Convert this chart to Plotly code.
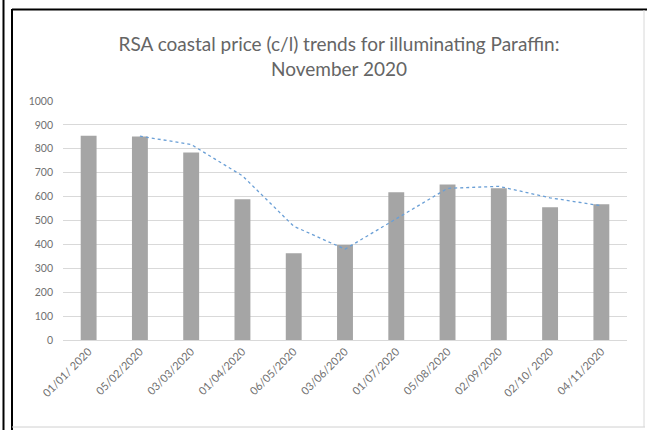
import plotly.graph_objects as go
import pandas as pd

dates = ["01/01/ 2020", "05/02/2020", "03/03/2020", "01/04/2020", "06/05/2020",
         "03/06/2020", "01/07/2020", "05/08/2020", "02/09/2020", "02/10/ 2020", "04/11/2020"]
prices = [855, 851, 785, 589, 363, 397, 618, 651, 635, 555, 568]
y_ticks = [0, 100, 200, 300, 400, 500, 600, 700, 800, 900, 1000]

# 2-period moving average trendline (as in the source chart)
trend = pd.Series(prices).rolling(2).mean().tolist()

L, R, T, B = 63, 20, 101, 90
W, H = 647, 430
pw, ph = W - L - R, H - T - B

def px(x):
    return (x - L) / pw

def py(y):
    return (H - B - y) / ph

fig = go.Figure()
fig.add_trace(go.Bar(x=dates, y=prices, marker_color="#a5a5a5", marker_line_width=0,
                     name="Price", showlegend=False))
fig.add_trace(go.Scatter(x=dates, y=trend, mode="lines",
                         line=dict(color="#6a9fd6", width=1.3, dash="dot"),
                         showlegend=False, connectgaps=False))

shapes = [
    dict(type="line", xref="paper", yref="paper", x0=px(3.5), x1=px(3.5), y0=py(0), y1=py(430),
         line=dict(color="black", width=2)),
    dict(type="line", xref="paper", yref="paper", x0=px(12), x1=px(12), y0=py(9), y1=py(430),
         line=dict(color="black", width=2)),
    dict(type="line", xref="paper", yref="paper", x0=px(12), x1=px(647), y0=py(9.5), y1=py(9.5),
         line=dict(color="black", width=2)),
    dict(type="line", xref="paper", yref="paper", x0=px(12), x1=px(645), y0=py(427), y1=py(427),
         line=dict(color="#d0d0d0", width=1)),
    dict(type="line", xref="paper", yref="paper", x0=px(644), x1=px(644), y0=py(10), y1=py(427),
         line=dict(color="#d8d8d8", width=1)),
]

fig.update_layout(
    width=W, height=H,
    margin=dict(l=L, r=R, t=T, b=B),
    paper_bgcolor="white", plot_bgcolor="white",
    bargap=0.69,
    title=dict(text="RSA coastal price (c/l) trends for illuminating Paraffin:<br>November 2020",
               xref="container", yref="container",
               x=339 / W, xanchor="center", y=1 - 51 / H, yanchor="middle",
               font=dict(family="Lato, sans-serif", size=19, color="#656565")),
    font=dict(family="Lato, sans-serif", color="#707070"),
    shapes=shapes,
    xaxis=dict(type="category", tickangle=-45, tickfont=dict(size=11, color="#707070"),
               showgrid=False, showline=True, linecolor="#d9d9d9", ticks=""),
    yaxis=dict(range=[0, 1000], tickvals=y_ticks, tickfont=dict(size=10.5, color="#707070"),
               showgrid=True, gridcolor="#d9d9d9", gridwidth=1, zeroline=False,
               ticklabelstandoff=9, showline=False),
)

fig.write_html("out.html", config={"displayModeBar": False},
               post_script="document.body.style.margin='0';document.body.style.overflow='hidden';")
